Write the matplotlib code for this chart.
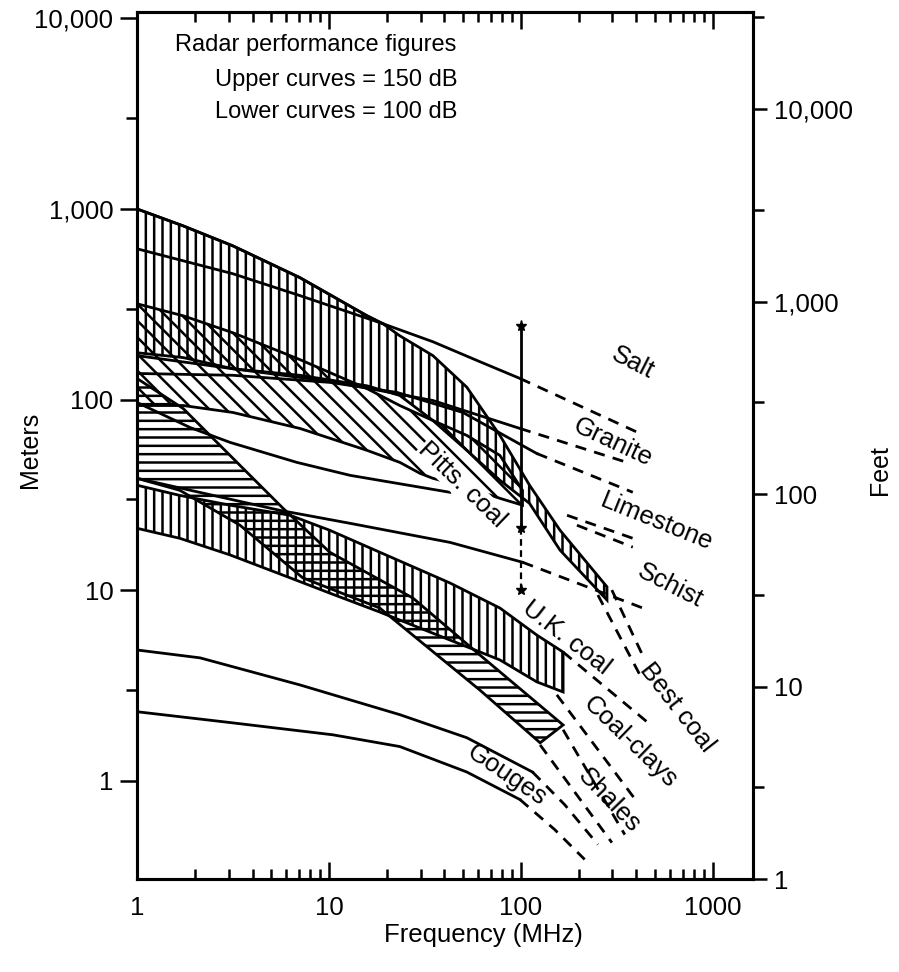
import numpy as np
import matplotlib
matplotlib.use("Agg")
import matplotlib.pyplot as plt
from matplotlib.ticker import LogLocator, FixedLocator, NullFormatter

plt.rcParams['font.family'] = ['Liberation Sans', 'DejaVu Sans']
plt.rcParams['hatch.linewidth'] = 1.8

# ---- data (frequency in MHz, range in meters) ----
# hatched bands: upper edge and lower edge
best_up_f = [1, 1.74, 3.16, 7.06, 15.8, 19.1, 23.4, 34.8, 52.3, 77.8, 111, 160, 281]
best_up_d = [1000, 815, 640, 436, 275, 250, 216, 170, 116, 64.8, 35.5, 20.6, 10.4]
best_lo_f = [1, 1.74, 3.16, 7.06, 15.8, 23.4, 34.8, 52.3, 77.8, 111, 160, 281]
best_lo_d = [176, 166, 145, 134, 118, 105, 77.6, 54.1, 37.7, 28.5, 16.2, 8.87]

pitts_up_f = [1, 1.74, 3.16, 7.06, 15.8, 23.4, 34.8, 52.3, 77.8, 102]
pitts_up_d = [318, 275, 224, 162, 114, 93, 77.6, 64.8, 50.9, 33.4]
pitts_lo_f = [1, 1.74, 3.16, 7.06, 15.8, 23.4, 29.8, 34.8, 52.3, 77.8, 102]
pitts_lo_d = [93, 93, 85.5, 70.5, 54.1, 46.8, 41, 38.6, 34.6, 30.3, 27.9]

uk_up_f = [1, 1.67, 3.05, 6.27, 10.1, 18.4, 42.7, 77.8, 121, 166]
uk_up_d = [35.5, 31.4, 27.9, 24.7, 20.6, 15.8, 10.9, 8.05, 5.81, 4.73]
uk_lo_f = [1, 1.67, 3.05, 6.27, 10.1, 18.4, 42.7, 77.8, 121, 166]
uk_lo_d = [21.1, 18.7, 15.3, 11.6, 9.64, 7.67, 5.47, 4.3, 3.30, 2.92]

clay_up_f = [1, 1.74, 2.61, 3.88, 5.76, 10.1, 27.4, 61.1, 166]
clay_up_d = [129, 89.7, 59.6, 40, 26.9, 15.8, 9.08, 4.57, 1.96]
clay_lo_f = [1, 1.67, 3.44, 7.3, 18.4, 61.1, 126]
clay_lo_d = [38.6, 33.4, 21.9, 11.6, 8.05, 2.99, 1.58]

# single curves: solid part, then dashed extrapolation
salt_f = [1, 1.74, 3.16, 7.06, 15.8, 19.1, 34.8, 61.1, 98.9]
salt_d = [1000, 815, 640, 436, 275, 250, 201, 158, 129]
salt_ext_f = [98.9, 417]
salt_ext_d = [129, 66.4]

inner_f = [1, 3.16, 7.06, 19.1]
inner_d = [618, 457, 351, 250]

granite_f = [1, 3.16, 10.5, 34.8, 98.9]
granite_d = [170, 145, 124, 98.8, 70.5]
granite_ext_f = [98.9, 357]
granite_ext_d = [70.5, 46.8]

lime_f = [1, 3.16, 10.1, 22.6, 49.9, 121]
lime_d = [137, 134, 123, 109, 85.5, 52.1]
lime_ext_f = [121, 383]
lime_ext_d = [52.1, 32.6]

dbl1_f = [174, 383]
dbl1_d = [24.7, 18.7]
dbl2_f = [196, 383]
dbl2_d = [21.9, 16.8]

schist_f = [1, 5.56, 12.9, 42.7, 102]
schist_d = [38.6, 26.2, 22.4, 17.8, 14.0]
schist_ext_f = [102, 432]
schist_ext_d = [14.0, 8.05]

pittsline_f = [1, 1.89, 3.05, 6.8, 12.9, 42.7]
pittsline_d = [96.5, 71.3, 59.6, 46.8, 40, 32.6]

bestA_f = [252, 417]
bestA_d = [9.42, 3.59]
bestB_f = [298, 442]
bestB_d = [10.0, 4.31]

ukA_f = [166, 453]
ukA_d = [4.73, 2.04]
ukB_f = [154, 402]
ukB_d = [2.82, 0.777]
clayA_f = [166, 348]
clayA_d = [1.85, 0.521]
clayB_f = [126, 298]
clayB_d = [1.54, 0.473]

gouge_up_f = [1, 2.13, 7.06, 23.4, 52.3, 115]
gouge_up_d = [4.85, 4.41, 3.18, 2.22, 1.68, 1.11]
gouge_up_ext_f = [115, 169, 252]
gouge_up_ext_d = [1.11, 0.749, 0.462]
gouge_lo_f = [1, 3.16, 10.5, 23.4, 52.3, 98.9]
gouge_lo_d = [2.30, 2.01, 1.74, 1.51, 1.11, 0.796]
gouge_lo_ext_f = [98.9, 150, 215]
gouge_lo_ext_d = [0.796, 0.554, 0.386]

# vertical marker at 100 MHz
marker_f = 100
marker_d = [244, 21.1, 10.0]

# curve labels: text, frequency, range, rotation
labels = [("Salt", 383, 156, -27),
          ("Granite", 301, 59.6, -25),
          ("Limestone", 511, 22.7, -22),
          ("Schist", 597, 10.6, -27),
          ("Pitts. coal", 49.3, 35.5, -44),
          ("U.K. coal", 172, 5.6, -38),
          ("Best coal", 649, 2.41, -52),
          ("Coal-clays", 370, 1.60, -44),
          ("Shales", 287, 0.785, -46),
          ("Gouges", 84.5, 1.07, -34)]

# right hand scale as printed (feet)
feet_top = 32000

LW = 2.0
DASH = (0, (4, 3))


def band(ax, fu, du, fl, dl, hatch):
    xs = list(fu) + list(fl)[::-1]
    ys = list(du) + list(dl)[::-1]
    ax.fill(xs, ys, facecolor='none', edgecolor='black', hatch=hatch, linewidth=LW)


def curve(ax, f, d, ext_f=None, ext_d=None):
    ax.plot(f, d, color='black', lw=LW)
    if ext_f is not None:
        ax.plot(ext_f, ext_d, color='black', lw=LW, ls=DASH)


fig = plt.figure(figsize=(8.99, 9.72), dpi=100)
ax = fig.add_axes([137/899, 1-879/972, (753-137)/899, (879-12)/972])
ax.set_xscale('log')
ax.set_yscale('log')
ax.set_xlim(1, 1620)
ax.set_ylim(0.3048, 10800)

band(ax, best_up_f, best_up_d, best_lo_f, best_lo_d, '||')
band(ax, pitts_up_f, pitts_up_d, pitts_lo_f, pitts_lo_d, '\\\\')
band(ax, uk_up_f, uk_up_d, uk_lo_f, uk_lo_d, '||')
band(ax, clay_up_f, clay_up_d, clay_lo_f, clay_lo_d, '--')

curve(ax, salt_f, salt_d, salt_ext_f, salt_ext_d)
curve(ax, inner_f, inner_d)
curve(ax, granite_f, granite_d, granite_ext_f, granite_ext_d)
curve(ax, lime_f, lime_d, lime_ext_f, lime_ext_d)
curve(ax, schist_f, schist_d, schist_ext_f, schist_ext_d)
curve(ax, pittsline_f, pittsline_d)
curve(ax, gouge_up_f, gouge_up_d, gouge_up_ext_f, gouge_up_ext_d)
curve(ax, gouge_lo_f, gouge_lo_d, gouge_lo_ext_f, gouge_lo_ext_d)
for ef, ed in [(dbl1_f, dbl1_d), (dbl2_f, dbl2_d), (bestA_f, bestA_d), (bestB_f, bestB_d),
               (ukA_f, ukA_d), (ukB_f, ukB_d), (clayA_f, clayA_d), (clayB_f, clayB_d)]:
    ax.plot(ef, ed, color='black', lw=LW, ls=DASH)

# the 100 MHz marker
ax.plot([marker_f, marker_f], marker_d[:2], color='black', lw=LW)
ax.plot([marker_f, marker_f], marker_d[1:], color='black', lw=1.6, ls=(0, (3, 2)))
ax.plot([marker_f]*3, marker_d, ls='none', marker='*', ms=8, color='black')

for txt, f, d, rot in labels:
    bb = None
    if txt == "Pitts. coal":
        bb = dict(facecolor='white', edgecolor='none', pad=0.5)
    ax.text(f, d, txt, rotation=rot, ha='center', va='center', fontsize=18.5,
            rotation_mode='anchor', bbox=bb, zorder=5)

ax.text(0.062, 0.962, "Radar performance figures", transform=ax.transAxes,
        fontsize=17, ha='left', va='center')
ax.text(0.127, 0.922, "Upper curves = 150 dB", transform=ax.transAxes,
        fontsize=17, ha='left', va='center')
ax.text(0.127, 0.885, "Lower curves = 100 dB", transform=ax.transAxes,
        fontsize=17, ha='left', va='center')

# axes and ticks
ax.set_xticks([1, 10, 100, 1000])
ax.set_xticklabels(['1', '10', '100', '1000'])
ax.xaxis.set_minor_locator(LogLocator(base=10, subs=np.arange(2, 10)))
ax.xaxis.set_minor_formatter(NullFormatter())
ax.tick_params(axis='x', which='both', direction='in', top=True, bottom=True, width=1.8)
ax.tick_params(axis='x', which='major', length=12, pad=12, labelsize=18.5)
ax.tick_params(axis='x', which='minor', length=7)

ax.set_yticks([1, 10, 100, 1000, 10000])
ax.set_yticklabels(['1', '10', '100', '1,000', '10,000'])
ax.yaxis.set_minor_locator(FixedLocator([3, 30, 300, 3000]))
ax.yaxis.set_minor_formatter(NullFormatter())
ax.tick_params(axis='y', which='both', direction='out', width=1.8)
ax.tick_params(axis='y', which='major', length=12, pad=5, labelsize=18.5)
ax.tick_params(axis='y', which='minor', length=8)

ax2 = ax.twinx()
ax2.set_yscale('log')
ax2.set_ylim(1, feet_top)
ax2.set_yticks([1, 10, 100, 1000, 10000])
ax2.set_yticklabels(['1', '10', '100', '1,000', '10,000'])
ax2.yaxis.set_minor_locator(FixedLocator([3, 30, 300, 3000, 30000]))
ax2.yaxis.set_minor_formatter(NullFormatter())
ax2.tick_params(axis='y', which='both', direction='out', width=1.8)
ax2.tick_params(axis='y', which='major', length=10, pad=5, labelsize=18.5)
ax2.tick_params(axis='y', which='minor', length=8)

for a in (ax, ax2):
    for s in a.spines.values():
        s.set_linewidth(2.2)

fig.text(30/899, 1-450/972, "Meters", rotation=90, fontsize=18, ha='center', va='center')
fig.text(880/899, 1-470/972, "Feet", rotation=90, fontsize=18, ha='center', va='center')
fig.text(483/899, 1-935/972, "Frequency (MHz)", fontsize=18.5, ha='center', va='center')

fig.savefig("out.png", dpi=100)
